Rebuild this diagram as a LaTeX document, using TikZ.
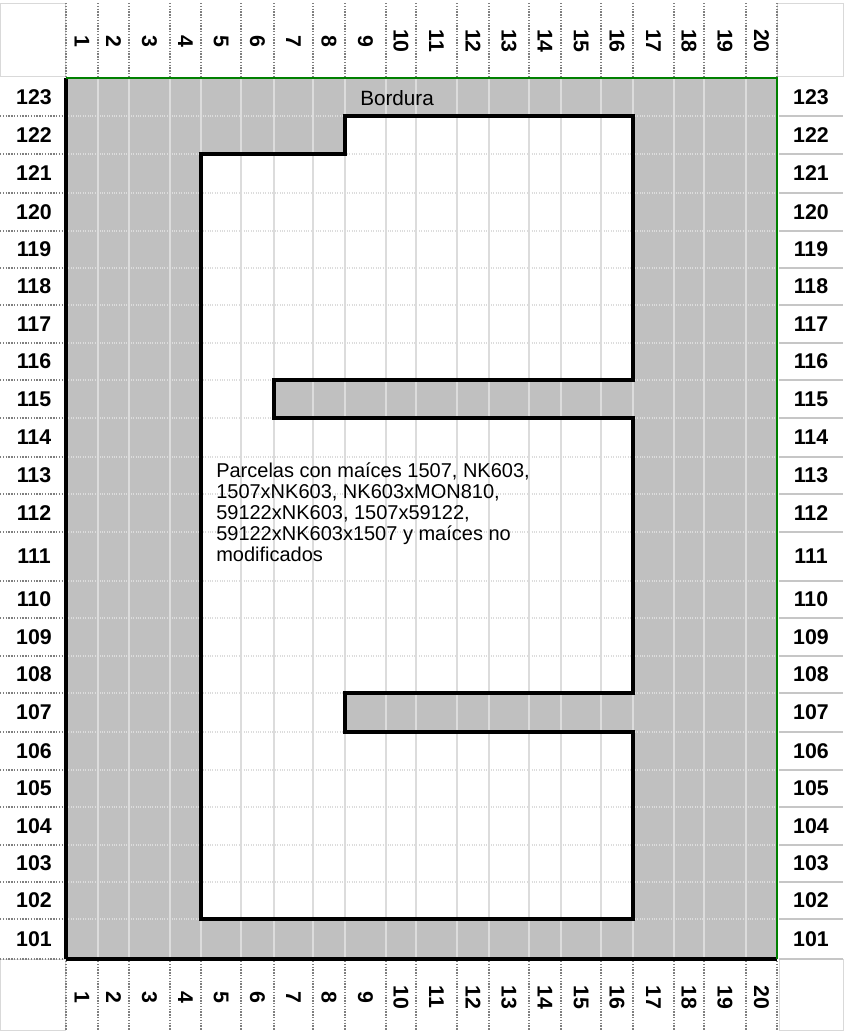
\documentclass[tikz,border=0pt]{standalone}
\usepackage{fontspec}
\setmainfont{Liberation Sans}
\usetikzlibrary{calc}
\definecolor{fieldgray}{HTML}{C0C0C0}
\definecolor{cellgray}{HTML}{DCDCDC}
\definecolor{sepgray}{HTML}{7F7F7F}
\definecolor{edgegreen}{HTML}{008000}
\tikzset{
  cellline/.style={cellgray, line width=0.8pt},
  edge/.style={black, line width=2.4pt, line join=miter},
  greenedge/.style={edgegreen, line width=2.2pt},
  hdrsep/.style={sepgray, line width=1.1pt, densely dotted},
  rowsep/.style={gray!45, line width=0.9pt},
  cornerbox/.style={draw=gray!30, line width=0.7pt, fill=white},
  lab/.style={inner sep=0pt, font=\fontsize{15}{15.75}\selectfont},
  rowlab/.style={inner sep=0pt, font=\bfseries\fontsize{16}{17}\selectfont},
  collab/.style={rowlab, rotate=-90},
}

\begin{document}
\begin{tikzpicture}[x=0.75pt, y=-0.75pt]
  \useasboundingbox (0,0) rectangle (843,1032);

  % field: border rows in gray, plots in white
  \fill[fieldgray] (66,78) rectangle (777,959);
  \fill[white] (345,116) -- (633,116) -- (633,380) -- (274,380) -- (274,418)
    -- (633,418) -- (633,693) -- (345,693) -- (345,732) -- (633,732)
    -- (633,919) -- (201,919) -- (201,154) -- (345,154) -- cycle;

  % cell lines
  \foreach \x in {98,129,170,201,241,274,313,345,386,416,457,489,529,561,601,633,674,704,746}
    \draw[cellline] (\x,78) -- (\x,959);
  \foreach \y in {116,154,193,231,268,305,343,380,418,457,494,532,581,618,656,693,732,770,807,845,882,919}
    \draw[cellline, densely dotted] (66,\y) -- (777,\y);

  % outline of the plots
  \draw[edge] (345,116) -- (633,116) -- (633,380) -- (274,380) -- (274,418)
    -- (633,418) -- (633,693) -- (345,693) -- (345,732) -- (633,732)
    -- (633,919) -- (201,919) -- (201,154) -- (345,154) -- cycle;
  \node[lab, font=\fontsize{15.5}{16}\selectfont, anchor=base west] (bordura) at (360,105) {Bordura};
  \node[lab, anchor=north west, align=left] (parcelas) at (216,462)
    {Parcelas con maíces 1507, NK603,\\1507xNK603, NK603xMON810,\\59122xNK603, 1507x59122,\\59122xNK603x1507 y maíces no\\modificados};

  % field edges
  \draw[edge] (66,78) -- (66,959) -- (777,959);
  \draw[greenedge] (66,78) -- (777,78) -- (777,959);

  % corner boxes
  \draw[cornerbox] (0,3) rectangle (65,76);
  \draw[cornerbox] (777,3) rectangle (843,76);
  \draw[cornerbox] (0,959) rectangle (65,1030);
  \draw[cornerbox] (779,959) rectangle (843,1030);

  % column numbers, top and bottom
  \foreach \x in {66,98,129,170,201,241,274,313,345,386,416,457,489,529,561,601,633,674,704,746,777}{
    \draw[hdrsep] (\x,3) -- (\x,76);
    \draw[hdrsep] (\x,961) -- (\x,1030);
  }
  \foreach \c/\xa/\xb in {1/66/98, 2/98/129, 3/129/170, 4/170/201, 5/201/241,
      6/241/274, 7/274/313, 8/313/345, 9/345/386, 10/386/416, 11/416/457,
      12/457/489, 13/489/529, 14/529/561, 15/561/601, 16/601/633, 17/633/674,
      18/674/704, 19/704/746, 20/746/777}{
    \node[collab] (ct\c) at ({(\xa+\xb)/2},41) {\c};
    \node[collab] (cb\c) at ({(\xa+\xb)/2},997) {\c};
  }

  % row numbers, left and right
  \foreach \r/\ya/\yb in {123/78/116, 122/116/154, 121/154/193, 120/193/231,
      119/231/268, 118/268/305, 117/305/343, 116/343/380, 115/380/418,
      114/418/457, 113/457/494, 112/494/532, 111/532/581, 110/581/618,
      109/618/656, 108/656/693, 107/693/732, 106/732/770, 105/770/807,
      104/807/845, 103/845/882, 102/882/919, 101/919/959}{
    \node[rowlab] (rl\r) at (34,{(\ya+\yb)/2}) {\r};
    \node[rowlab] (rr\r) at (811,{(\ya+\yb)/2}) {\r};
    \draw[hdrsep] (0,\yb) -- (64,\yb);
    \draw[rowsep] (779,\yb) -- (843,\yb);
  }
\end{tikzpicture}
\end{document}
